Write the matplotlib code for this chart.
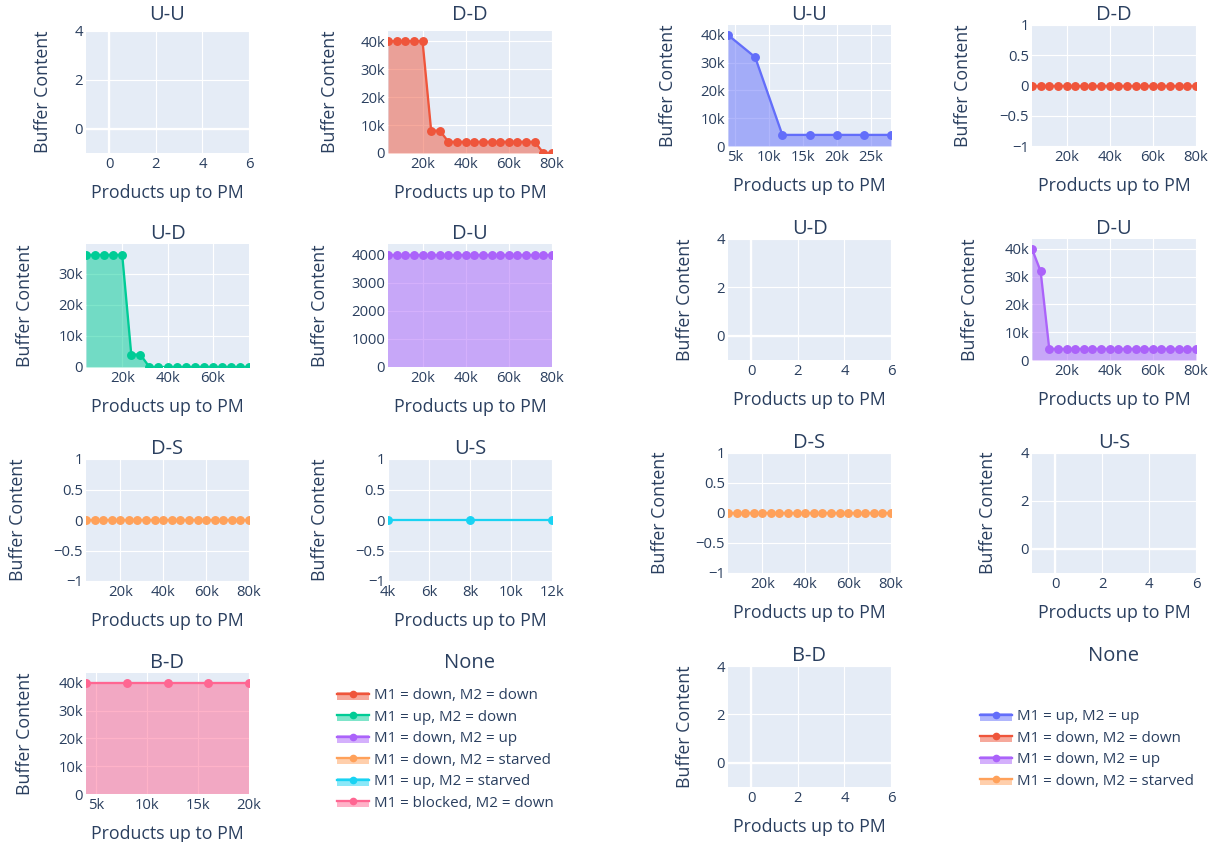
import matplotlib
matplotlib.use("Agg")
import matplotlib.pyplot as plt
from matplotlib.lines import Line2D
from matplotlib.patches import Rectangle
from matplotlib.legend_handler import HandlerBase

plt.rcParams['font.family'] = ['Open Sans', 'DejaVu Sans']

W, H = 1211, 842
TXT = '#2a3f5f'
BG = '#E5ECF6'

# ---------------- colours ----------------
C_UU = '#636EFA'
C_DD = '#EF553B'
C_UD = '#00CC96'
C_DU = '#AB63FA'
C_DS = '#FFA15A'
C_US = '#19D3F3'
C_BD = '#FF6692'

# ---------------- data: left figure ----------------
L_DD_x = [4000, 8000, 12000, 16000, 20000, 24000, 28000, 32000, 36000, 40000,
          44000, 48000, 52000, 56000, 60000, 64000, 68000, 72000, 76000, 80000]
L_DD_y = [40000, 40000, 40000, 40000, 40000, 8000, 8000, 4000, 4000, 4000,
          4000, 4000, 4000, 4000, 4000, 4000, 4000, 4000, 0, 0]

L_UD_x = [4000, 8000, 12000, 16000, 20000, 24000, 28000, 32000, 36000, 40000,
          44000, 48000, 52000, 56000, 60000, 64000, 68000, 72000, 76000]
L_UD_y = [36000, 36000, 36000, 36000, 36000, 4000, 4000, 0, 0, 0,
          0, 0, 0, 0, 0, 0, 0, 0, 0]

L_DU_x = [4000, 8000, 12000, 16000, 20000, 24000, 28000, 32000, 36000, 40000,
          44000, 48000, 52000, 56000, 60000, 64000, 68000, 72000, 76000, 80000]
L_DU_y = [4000, 4000, 4000, 4000, 4000, 4000, 4000, 4000, 4000, 4000,
          4000, 4000, 4000, 4000, 4000, 4000, 4000, 4000, 4000, 4000]

L_DS_x = [4000, 8000, 12000, 16000, 20000, 24000, 28000, 32000, 36000, 40000,
          44000, 48000, 52000, 56000, 60000, 64000, 68000, 72000, 76000, 80000]
L_DS_y = [0, 0, 0, 0, 0, 0, 0, 0, 0, 0, 0, 0, 0, 0, 0, 0, 0, 0, 0, 0]

L_US_x = [4000, 8000, 12000]
L_US_y = [0, 0, 0]

L_BD_x = [4000, 8000, 12000, 16000, 20000]
L_BD_y = [40000, 40000, 40000, 40000, 40000]

# ---------------- data: right figure ----------------
R_UU_x = [4000, 8000, 12000, 16000, 20000, 24000, 28000]
R_UU_y = [40000, 32000, 4000, 4000, 4000, 4000, 4000]

R_DD_x = [4000, 8000, 12000, 16000, 20000, 24000, 28000, 32000, 36000, 40000,
          44000, 48000, 52000, 56000, 60000, 64000, 68000, 72000, 76000, 80000]
R_DD_y = [0, 0, 0, 0, 0, 0, 0, 0, 0, 0, 0, 0, 0, 0, 0, 0, 0, 0, 0, 0]

R_DU_x = [4000, 8000, 12000, 16000, 20000, 24000, 28000, 32000, 36000, 40000,
          44000, 48000, 52000, 56000, 60000, 64000, 68000, 72000, 76000, 80000]
R_DU_y = [40000, 32000, 4000, 4000, 4000, 4000, 4000, 4000, 4000, 4000,
          4000, 4000, 4000, 4000, 4000, 4000, 4000, 4000, 4000, 4000]

R_DS_x = [4000, 8000, 12000, 16000, 20000, 24000, 28000, 32000, 36000, 40000,
          44000, 48000, 52000, 56000, 60000, 64000, 68000, 72000, 76000, 80000]
R_DS_y = [0, 0, 0, 0, 0, 0, 0, 0, 0, 0, 0, 0, 0, 0, 0, 0, 0, 0, 0, 0]

# ---------------- ticks ----------------
TK_80 = [20000, 40000, 60000, 80000]
TL_80 = ['20k', '40k', '60k', '80k']
TK_76 = [20000, 40000, 60000]
TL_76 = ['20k', '40k', '60k']
TK_12 = [4000, 6000, 8000, 10000, 12000]
TL_12 = ['4k', '6k', '8k', '10k', '12k']
TK_20 = [5000, 10000, 15000, 20000]
TL_20 = ['5k', '10k', '15k', '20k']
TK_28 = [5000, 10000, 15000, 20000, 25000]
TL_28 = ['5k', '10k', '15k', '20k', '25k']
TK_Y40 = [0, 10000, 20000, 30000, 40000]
TL_Y40 = ['0', '10k', '20k', '30k', '40k']
TK_Y36 = [0, 10000, 20000, 30000]
TL_Y36 = ['0', '10k', '20k', '30k']
TK_Y4000 = [0, 1000, 2000, 3000, 4000]
TL_Y4000 = ['0', '1000', '2000', '3000', '4000']
TK_PM1 = [-1, -0.5, 0, 0.5, 1]
TL_PM1 = ['\u22121', '\u22120.5', '0', '0.5', '1']
TK_EX = [0, 2, 4, 6]
TL_EX = ['0', '2', '4', '6']
TK_EY = [0, 2, 4]
TL_EY = ['0', '2', '4']

LEFT_LEGEND = [('M1 = down, M2 = down', C_DD), ('M1 = up, M2 = down', C_UD),
               ('M1 = down, M2 = up', C_DU), ('M1 = down, M2 = starved', C_DS),
               ('M1 = up, M2 = starved', C_US), ('M1 = blocked, M2 = down', C_BD)]
RIGHT_LEGEND = [('M1 = up, M2 = up', C_UU), ('M1 = down, M2 = down', C_DD),
                ('M1 = down, M2 = up', C_DU), ('M1 = down, M2 = starved', C_DS)]

# ---------------- style sizes ----------------
FS_TITLE = 14.5
FS_AX = 12.8
FS_TICK = 10.7
FS_LEG = 10.9
LW = 1.66
MS = 5.4

fig = plt.figure(figsize=(W / 100, H / 100), dpi=100)
fig.patch.set_facecolor('white')


def make_ax(x0, x1, y0, y1):
    return fig.add_axes([x0 / W, 1 - y1 / H, (x1 - x0) / W, (y1 - y0) / H])


def style(ax, title, tpad, xlim, ylim, xt, xtl, yt, ytl, ylab_x, box):
    x0, x1, y0, y1 = box
    ax.set_facecolor(BG)
    for s in ax.spines.values():
        s.set_visible(False)
    ax.set_xlim(*xlim)
    ax.set_ylim(*ylim)
    ax.set_xticks(xt)
    ax.set_xticklabels(xtl)
    ax.set_yticks(yt)
    ax.set_yticklabels(ytl)
    ax.tick_params(length=0, labelsize=FS_TICK, labelcolor=TXT)
    ax.tick_params(axis='x', pad=3.0)
    ax.tick_params(axis='y', pad=2.0)
    ax.grid(True, color='white', lw=0.83)
    ax.set_axisbelow(True)
    if xlim[0] < 0 < xlim[1]:
        ax.axvline(0, color='white', lw=LW, zorder=0.6)
    if ylim[0] < 0 < ylim[1]:
        ax.axhline(0, color='white', lw=LW, zorder=0.6)
    ax.set_title(title, fontsize=FS_TITLE, color=TXT, pad=tpad)
    ax.set_xlabel('Products up to PM', fontsize=FS_AX, color=TXT)
    ax.xaxis.set_label_coords(0.5, -40 / (y1 - y0))
    ax.xaxis.label.set_va('center')
    ax.set_ylabel('Buffer Content', fontsize=FS_AX, color=TXT)
    ax.yaxis.set_label_coords((ylab_x - x0) / (x1 - x0), 0.5)
    ax.yaxis.label.set_va('center')


def series(ax, x, y, c):
    ax.fill_between(x, 0, y, color=c, alpha=0.5, lw=0, zorder=2)
    ax.plot(x, y, color=c, lw=LW, marker='o', ms=MS, zorder=3)


# ---------- layout boxes (pixels) ----------
LC1, LC2 = (86, 249), (388, 552)
LR = [(31, 153), (244, 367), (459, 581), (673, 794)]
RC1, RC2 = (728, 891), (1032, 1196)
RR = [(25, 146), (239, 360), (453, 573), (666, 787)]

EMPTY = dict(xlim=(-1, 6), ylim=(-1, 4), xt=TK_EX, xtl=TL_EX, yt=TK_EY, ytl=TL_EY)
Y43 = (0, 43600)

panels = [
    # left figure
    ('U-U', 8, LC1, LR[0], 43, None, EMPTY),
    ('D-D', 8, LC2, LR[0], 330, (L_DD_x, L_DD_y, C_DD),
     dict(xlim=(4000, 80000), ylim=Y43, xt=TK_80, xtl=TL_80, yt=TK_Y40, ytl=TL_Y40)),
    ('U-D', 2, LC1, LR[1], 25, (L_UD_x, L_UD_y, C_UD),
     dict(xlim=(4000, 76000), ylim=(0, 39500), xt=TK_76, xtl=TL_76, yt=TK_Y36, ytl=TL_Y36)),
    ('D-U', 2, LC2, LR[1], 320, (L_DU_x, L_DU_y, C_DU),
     dict(xlim=(4000, 80000), ylim=(0, 4380), xt=TK_80, xtl=TL_80, yt=TK_Y4000, ytl=TL_Y4000)),
    ('D-S', 2, LC1, LR[2], 18, (L_DS_x, L_DS_y, C_DS),
     dict(xlim=(4000, 80000), ylim=(-1, 1), xt=TK_80, xtl=TL_80, yt=TK_PM1, ytl=TL_PM1)),
    ('U-S', 2, LC2, LR[2], 320, (L_US_x, L_US_y, C_US),
     dict(xlim=(4000, 12000), ylim=(-1, 1), xt=TK_12, xtl=TL_12, yt=TK_PM1, ytl=TL_PM1)),
    ('B-D', 2, LC1, LR[3], 25, (L_BD_x, L_BD_y, C_BD),
     dict(xlim=(4000, 20000), ylim=Y43, xt=TK_20, xtl=TL_20, yt=TK_Y40, ytl=TL_Y40)),
    # right figure
    ('U-U', 3, RC1, RR[0], 668, (R_UU_x, R_UU_y, C_UU),
     dict(xlim=(4000, 28000), ylim=Y43, xt=TK_28, xtl=TL_28, yt=TK_Y40, ytl=TL_Y40)),
    ('D-D', 3, RC2, RR[0], 963, (R_DD_x, R_DD_y, C_DD),
     dict(xlim=(4000, 80000), ylim=(-1, 1), xt=TK_80, xtl=TL_80, yt=TK_PM1, ytl=TL_PM1)),
    ('U-D', 2, RC1, RR[1], 685, None, EMPTY),
    ('D-U', 2, RC2, RR[1], 970, (R_DU_x, R_DU_y, C_DU),
     dict(xlim=(4000, 80000), ylim=Y43, xt=TK_80, xtl=TL_80, yt=TK_Y40, ytl=TL_Y40)),
    ('D-S', 2, RC1, RR[2], 660, (R_DS_x, R_DS_y, C_DS),
     dict(xlim=(4000, 80000), ylim=(-1, 1), xt=TK_80, xtl=TL_80, yt=TK_PM1, ytl=TL_PM1)),
    ('U-S', 2, RC2, RR[2], 988, None, EMPTY),
    ('B-D', 2, RC1, RR[3], 685, None, EMPTY),
]

for title, tpad, (x0, x1), (y0, y1), ylx, data, opts in panels:
    ax = make_ax(x0, x1, y0, y1)
    style(ax, title, tpad, opts['xlim'], opts['ylim'], opts['xt'], opts['xtl'],
          opts['yt'], opts['ytl'], ylx, (x0, x1, y0, y1))
    if data is not None:
        series(ax, *data)

# legend cells with "None" title
for (x0, x1), (y0, y1) in [(LC2, LR[3]), (RC2, RR[3])]:
    ax = make_ax(x0, x1, y0, y1)
    ax.axis('off')
    ax.set_title('None', fontsize=FS_TITLE, color=TXT, pad=2)


class FillLineHandler(HandlerBase):
    def create_artists(self, legend, orig_handle, xdescent, ydescent,
                       width, height, fontsize, trans):
        c = orig_handle.get_color()
        yc = height / 2 - ydescent
        rect = Rectangle((-xdescent, yc - 0.55 * height), width, 0.7 * height,
                         facecolor=c, alpha=0.5, edgecolor='none', transform=trans)
        line = Line2D([-xdescent, -xdescent + width], [yc, yc], color=c,
                      lw=LW, transform=trans)
        mk = Line2D([-xdescent + width / 2], [yc], marker='o', ms=4.5, color=c,
                    lw=0, transform=trans)
        return [rect, line, mk]


def add_legend(items, x_px, yc_px):
    handles = [Line2D([], [], color=c, label=n) for n, c in items]
    fig.legend(handles=handles, loc='center left',
               bbox_to_anchor=(x_px / W, 1 - yc_px / H),
               frameon=False, fontsize=FS_LEG, labelcolor=TXT,
               handlelength=2.1, handletextpad=0.33, labelspacing=0.43,
               borderpad=0, borderaxespad=0,
               handler_map={Line2D: FillLineHandler()})


add_legend(LEFT_LEGEND, 337, 749.5)
add_legend(RIGHT_LEGEND, 980, 749)

fig.savefig('out.png', dpi=100, facecolor='white')
